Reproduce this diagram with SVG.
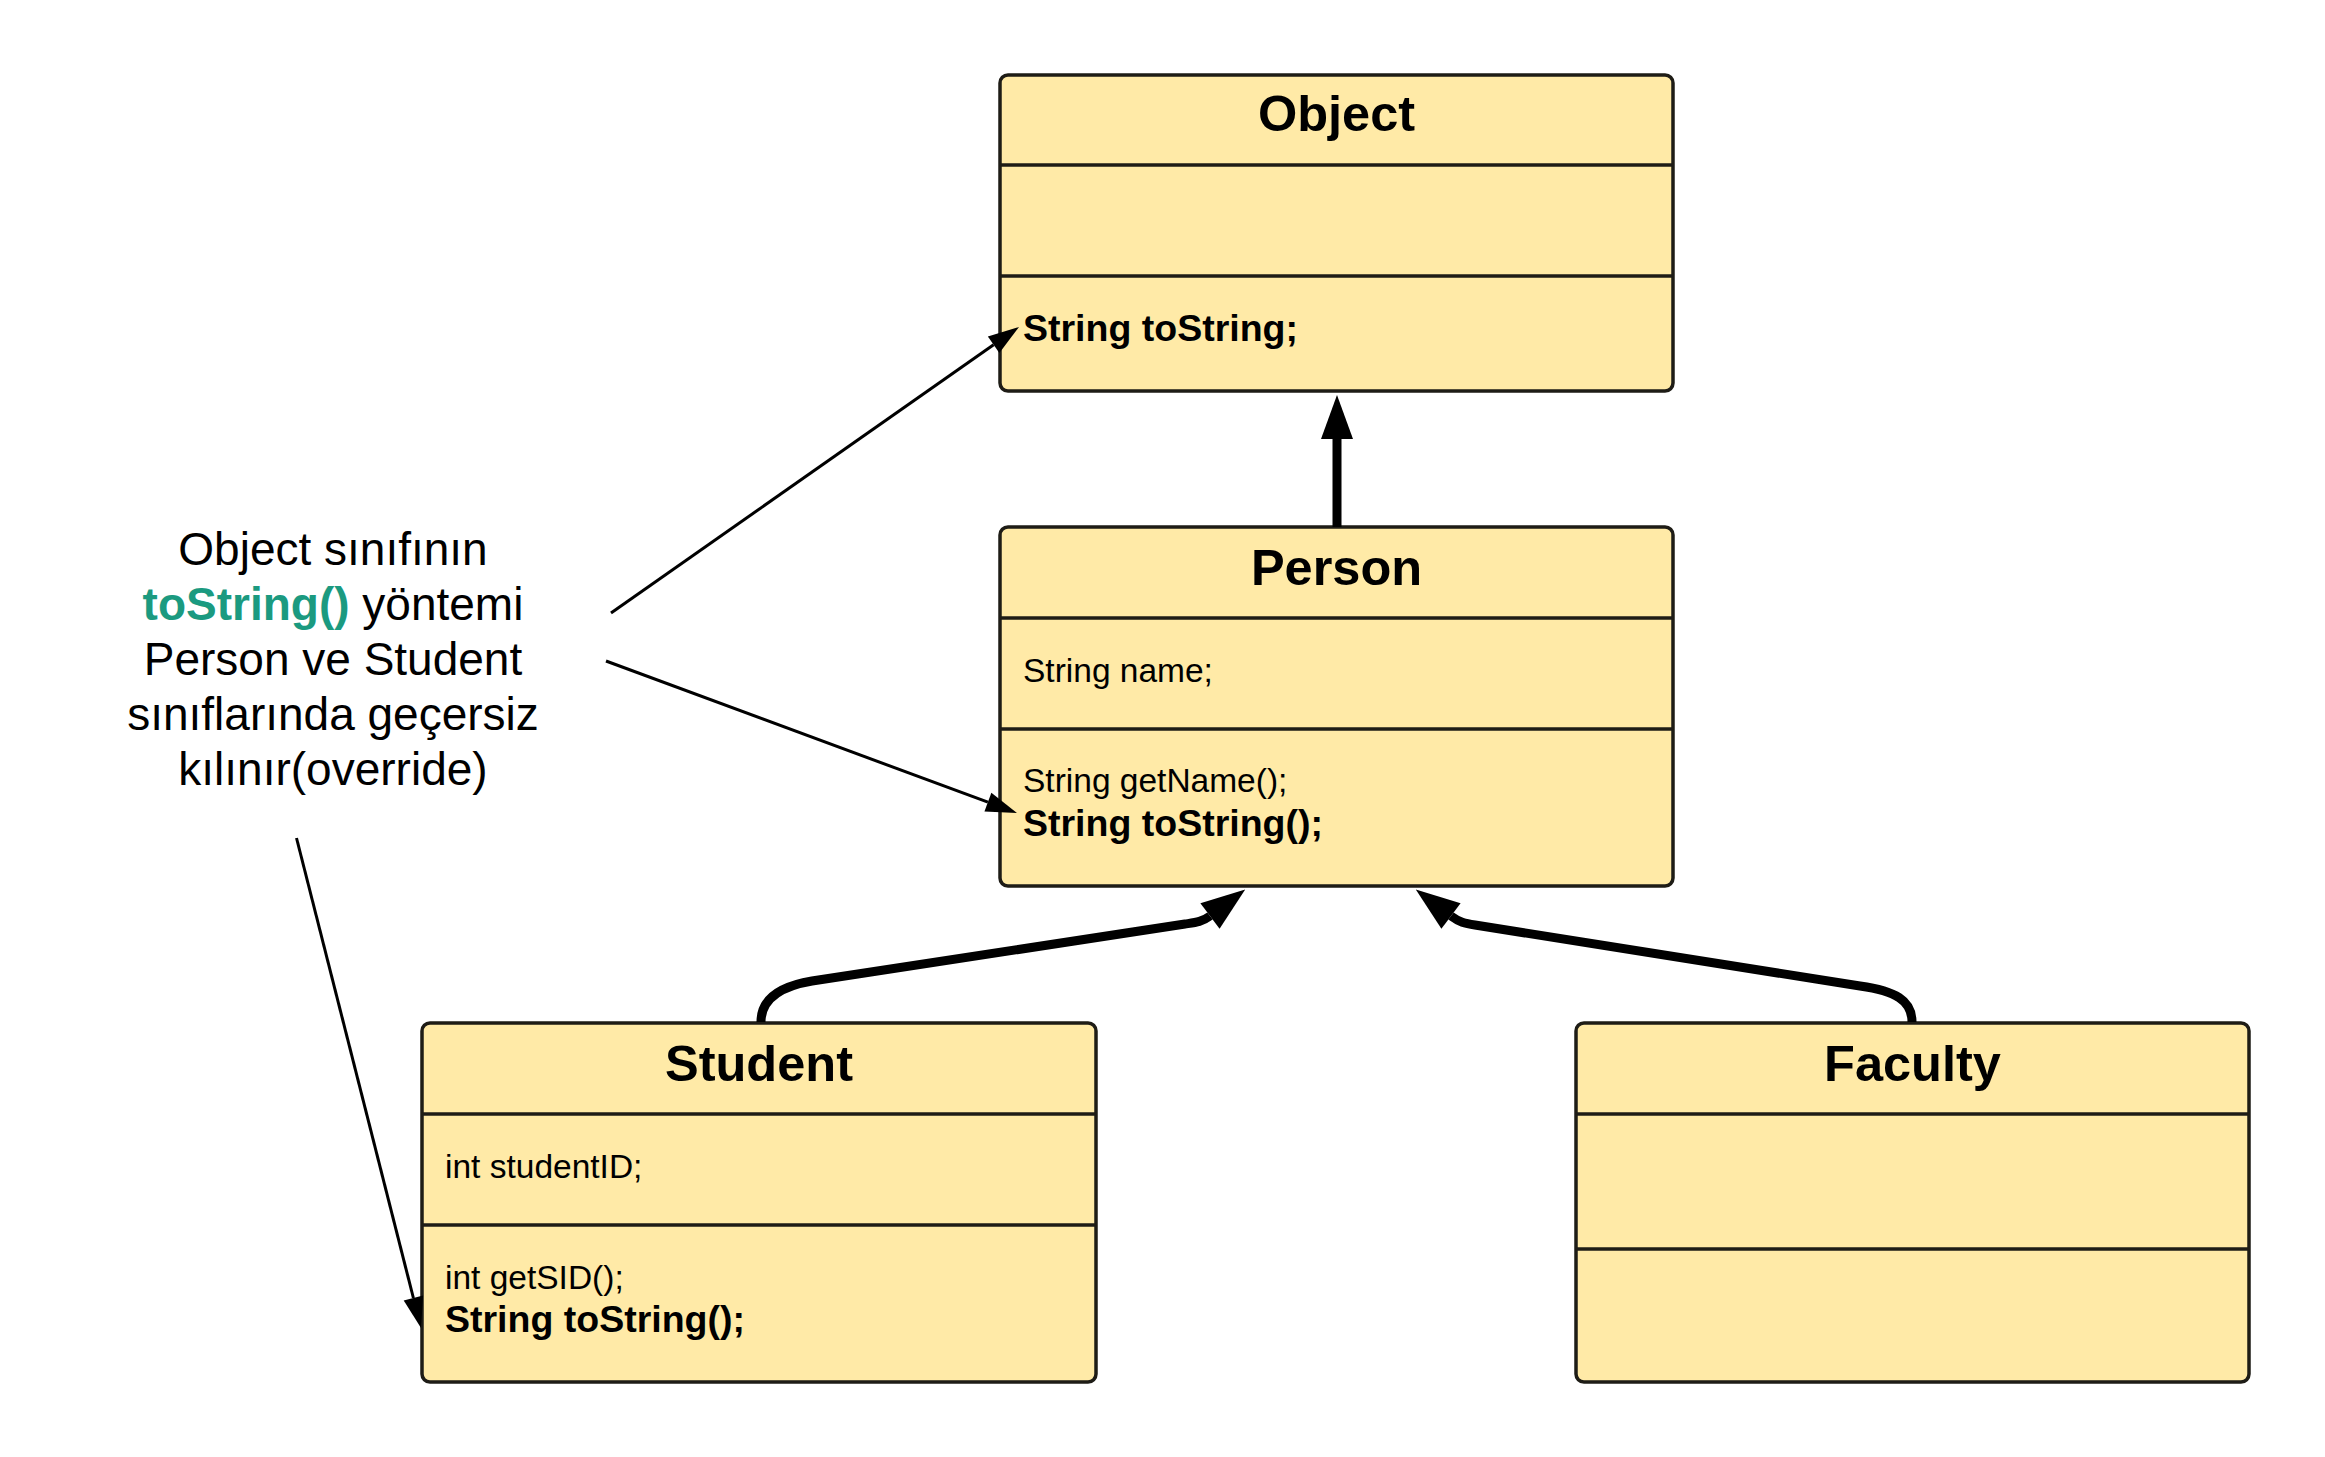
<svg xmlns="http://www.w3.org/2000/svg" width="2325" height="1457" viewBox="0 0 2325 1457">
  <style>
    .box { fill: #ffeaa7; stroke: #1e1c16; stroke-width: 3.5; }
    .sep { stroke: #1e1c16; stroke-width: 3.5; }
    .title { font-family: "Liberation Sans", Arial, sans-serif; font-weight: bold; font-size: 50.5px; fill: #000; text-anchor: middle; }
    .member { font-family: "Liberation Sans", Arial, sans-serif; font-size: 33.5px; fill: #000; }
    .member-b { font-family: "Liberation Sans", Arial, sans-serif; font-size: 37.5px; font-weight: bold; fill: #000; }
    .note { font-family: "Liberation Sans", Arial, sans-serif; font-size: 46px; fill: #000; text-anchor: middle; }
    .note-hl { font-weight: bold; fill: #1b9a80; }
    .inherit { fill: none; stroke: #000; stroke-width: 9; marker-end: url(#headThick); }
    .pointer { fill: none; stroke: #000; stroke-width: 3; marker-end: url(#headThin); }
  </style>
  <defs>
    <marker id="headThick" markerUnits="userSpaceOnUse" markerWidth="44" markerHeight="32" refX="0" refY="16" orient="auto" overflow="visible">
      <path d="M0,0 L44,16 L0,32 Z" fill="#000"/>
    </marker>
    <marker id="headThin" markerUnits="userSpaceOnUse" markerWidth="31" markerHeight="20" refX="0" refY="10" orient="auto" overflow="visible">
      <path d="M0,0 L31,10 L0,20 Z" fill="#000"/>
    </marker>
  </defs>

  <rect width="2325" height="1457" fill="#ffffff"/>

  <!-- class: Object -->
  <g id="object">
    <rect class="box" x="1000" y="75" width="673" height="316" rx="8"/>
    <line class="sep" x1="1000" y1="165" x2="1673" y2="165"/>
    <line class="sep" x1="1000" y1="276" x2="1673" y2="276"/>
    <text class="title" x="1336.5" y="131">Object</text>
    <text class="member-b" x="1023" y="341">String toString;</text>
  </g>

  <!-- class: Person -->
  <g id="person">
    <rect class="box" x="1000" y="527" width="673" height="359" rx="8"/>
    <line class="sep" x1="1000" y1="618" x2="1673" y2="618"/>
    <line class="sep" x1="1000" y1="729" x2="1673" y2="729"/>
    <text class="title" x="1336.5" y="585">Person</text>
    <text class="member" x="1023" y="682">String name;</text>
    <text class="member" x="1023" y="792">String getName();</text>
    <text class="member-b" x="1023" y="836">String toString();</text>
  </g>

  <!-- class: Student -->
  <g id="student">
    <rect class="box" x="422" y="1023" width="674" height="359" rx="8"/>
    <line class="sep" x1="422" y1="1114" x2="1096" y2="1114"/>
    <line class="sep" x1="422" y1="1225" x2="1096" y2="1225"/>
    <text class="title" x="759" y="1081">Student</text>
    <text class="member" x="445" y="1178">int studentID;</text>
    <text class="member" x="445" y="1289">int getSID();</text>
    <text class="member-b" x="445" y="1332">String toString();</text>
  </g>

  <!-- class: Faculty -->
  <g id="faculty">
    <rect class="box" x="1576" y="1023" width="673" height="359" rx="8"/>
    <line class="sep" x1="1576" y1="1114" x2="2249" y2="1114"/>
    <line class="sep" x1="1576" y1="1249" x2="2249" y2="1249"/>
    <text class="title" x="1912.5" y="1081">Faculty</text>
  </g>

  <!-- free-standing note -->
  <g id="note">
    <text class="note" x="333" y="565">Object sınıfının</text>
    <text class="note" x="333" y="620"><tspan class="note-hl">toString()</tspan> yöntemi</text>
    <text class="note" x="333" y="675">Person ve Student</text>
    <text class="note" x="333" y="730">sınıflarında geçersiz</text>
    <text class="note" x="333" y="785">kılınır(override)</text>
  </g>

  <!-- connectors -->
  <g id="connectors">
    <path class="inherit" d="M1337 527 L1337 439"/>
    <path class="inherit" d="M761 1022 C761 998 782 986 812 981 L1185 924 C1195 922.5 1202 922 1210 916"/>
    <path class="inherit" d="M1912 1022 C1912 1000 1895 991 1860 986 L1475 925 C1465 923.5 1459 922 1451 916"/>
    <path class="pointer" d="M611 613 L993.6 344.8"/>
    <path class="pointer" d="M606 661 L987.9 802.2"/>
    <path class="pointer" d="M296.5 838 L413.4 1298"/>
  </g>
</svg>
